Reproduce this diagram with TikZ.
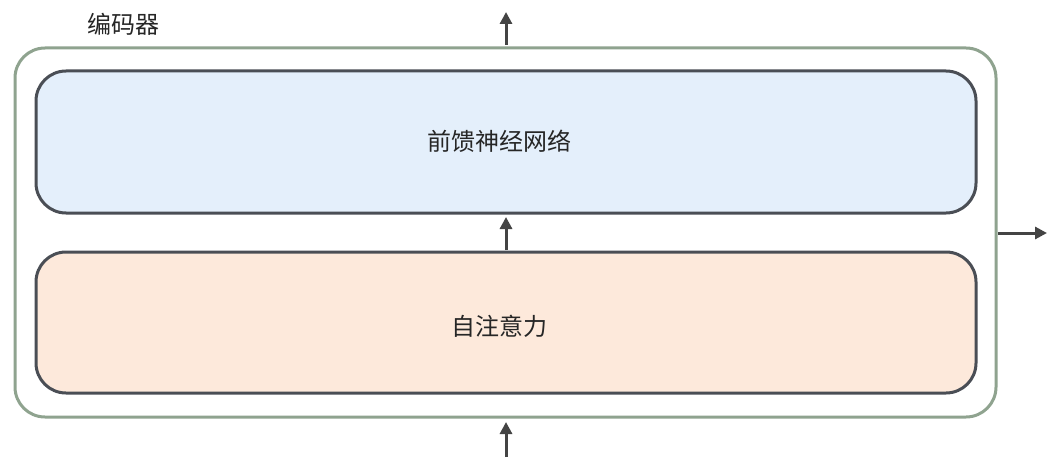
\documentclass[tikz,border=0pt]{standalone}
\usepackage{fontspec}
\newfontfamily\cjk{Noto Sans CJK SC}
\usetikzlibrary{arrows.meta}
\definecolor{outerc}{HTML}{8FA38F}
\definecolor{innerc}{HTML}{4A4E55}
\definecolor{bluef}{HTML}{E4EFFB}
\definecolor{orangef}{HTML}{FDE9DB}
\definecolor{arrc}{HTML}{444444}
\tikzset{
  outerbox/.style={draw=outerc, line width=3pt, rounded corners=30pt, fill=white},
  innerbox/.style={draw=innerc, line width=3pt, rounded corners=30pt},
  lbl/.style={font=\cjk\fontsize{24}{28}\selectfont, text=black!85},
  arr/.style={draw=arrc, line width=3pt, -{Triangle[length=12pt,width=12pt]}}
}
\begin{document}
\begin{tikzpicture}[x=1pt,y=-1pt]
\useasboundingbox (0,0) rectangle (1051,468);
\draw[outerbox] (15,48) rectangle (996,417);
\draw[innerbox, fill=bluef] (36,71) rectangle (976,213);
\draw[innerbox, fill=orangef] (36,252) rectangle (976,393);
\node[lbl] (ffn) at (499,141) {前馈神经网络};
\node[lbl] (att) at (499,326) {自注意力};
\node[lbl] (enc) at (123,24) {编码器};
\coordinate (t0) at (506,45);
\coordinate (t1) at (506,12);
\coordinate (m0) at (506,250);
\coordinate (m1) at (506,217);
\coordinate (b0) at (506,457);
\coordinate (b1) at (506,422);
\coordinate (r0) at (998,233);
\coordinate (r1) at (1047,233);
\draw[arr] (t0) -- (t1);
\draw[arr] (m0) -- (m1);
\draw[arr] (b0) -- (b1);
\draw[arr] (r0) -- (r1);
\end{tikzpicture}
\end{document}
